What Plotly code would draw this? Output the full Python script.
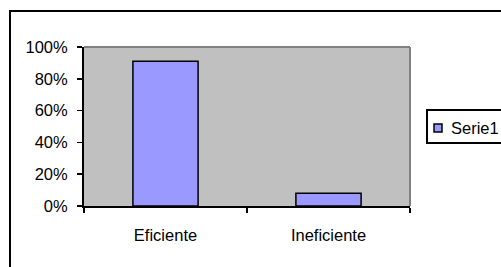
import plotly.graph_objects as go

# ---- data ----
categories = ["Eficiente", "Ineficiente"]
values = [0.91, 0.08]
series_name = "Serie1"
y_tick_vals = [0, 0.2, 0.4, 0.6, 0.8, 1.0]
y_tick_text = ["0%", "20%", "40%", "60%", "80%", "100%"]

W, H = 501, 267
L, R, T, B = 84, 410, 47, 206  # plot area in pixels


def px_x(p):
    return (p - L) / (R - L)


def px_y(p):
    return (B - p) / (B - T)


FONT = dict(family="Liberation Sans, Arial, sans-serif", size=16.5, color="black")

fig = go.Figure()
fig.add_trace(go.Bar(
    x=categories, y=values, name=series_name,
    marker=dict(color="#9999FF", line=dict(color="black", width=1.5)),
    showlegend=False,
))

shapes = [
    # outer chart border
    dict(type="rect", xref="paper", yref="paper",
         x0=px_x(10), x1=px_x(520), y0=px_y(290), y1=px_y(11),
         line=dict(color="black", width=2), layer="below"),
    # plot-area frame (gray top & right)
    dict(type="line", xref="paper", yref="paper",
         x0=0, x1=1, y0=1, y1=1, line=dict(color="#808080", width=2)),
    dict(type="line", xref="paper", yref="paper",
         x0=1, x1=1, y0=0, y1=1, line=dict(color="#808080", width=2)),
    # legend box
    dict(type="rect", xref="paper", yref="paper",
         x0=px_x(427), x1=px_x(520), y0=px_y(143), y1=px_y(110),
         line=dict(color="black", width=2), fillcolor="white"),
    # legend marker
    dict(type="rect", xref="paper", yref="paper",
         x0=px_x(434), x1=px_x(442), y0=px_y(132), y1=px_y(124),
         line=dict(color="black", width=1.5), fillcolor="#9999FF"),
]

annotations = [
    dict(text=series_name, xref="paper", yref="paper",
         x=px_x(449), y=px_y(127.5), xanchor="left", yanchor="middle",
         showarrow=False, font=FONT),
]

fig.update_layout(
    width=W, height=H, autosize=False,
    margin=dict(l=L, r=W - R, t=T, b=H - B, pad=0),
    paper_bgcolor="white", plot_bgcolor="#C0C0C0",
    font=FONT,
    bargap=0.6,
    showlegend=False,
    shapes=shapes,
    annotations=annotations,
)
fig.update_xaxes(
    showgrid=False, showline=True, linecolor="black", linewidth=2,
    ticks="outside", ticklen=5, tickwidth=1.5, tickcolor="black",
    tickson="boundaries", ticklabelstandoff=13, tickfont=FONT,
)
fig.update_yaxes(
    range=[0, 1], showgrid=False, zeroline=False,
    showline=True, linecolor="black", linewidth=2,
    tickvals=y_tick_vals, ticktext=y_tick_text,
    ticks="outside", ticklen=5, tickwidth=1.5, tickcolor="black",
    ticklabelstandoff=6, tickfont=FONT,
)

fig.write_html(
    "out.html",
    config={"displayModeBar": False, "staticPlot": True},
    post_script="document.body.style.margin='0';document.body.style.padding='0';"
                "document.body.style.overflow='hidden';",
)
